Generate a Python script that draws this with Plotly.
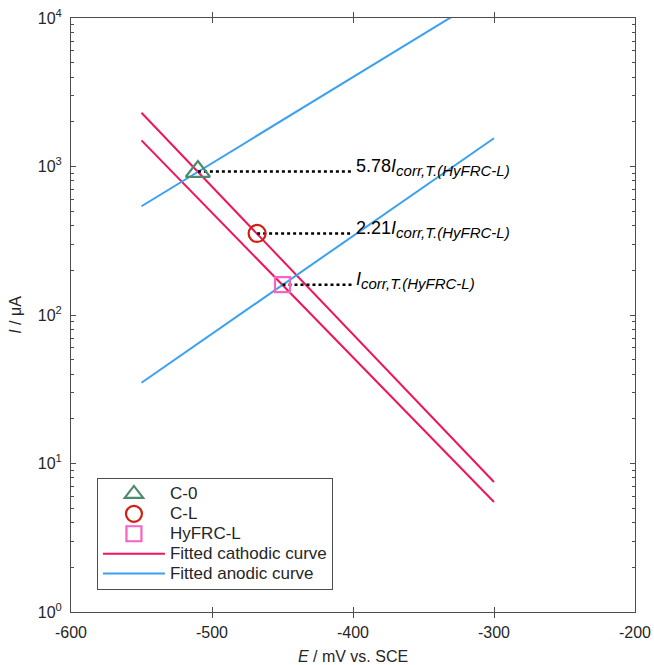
import math
import plotly.graph_objects as go

# Data
E_range = [-550, -300]
cathodic_upper = [2300, 7.5]
cathodic_lower = [1500, 5.5]
anodic_upper = [540, 15200]
anodic_lower = [35, 1550]

names = ["C-0", "C-L", "HyFRC-L"]
line_names = ["Fitted cathodic curve", "Fitted anodic curve"]
marker_E = [-510, -468, -450]
marker_I = [925, 354, 160]
ratio_labels = ["5.78", "2.21", ""]
dotted_end_E = -400
label_E = -399

y_major = [1, 10, 100, 1000, 10000]
y_major_text = ["10<sup>0</sup>", "10<sup>1</sup>", "10<sup>2</sup>", "10<sup>3</sup>", "10<sup>4</sup>"]
y_minor = [m * d for d in [1, 10, 100, 1000] for m in range(2, 10)]
x_tickvals = [-600, -500, -400, -300, -200]
x_ticktext = ["-600", "-500", "-400", "-300", "-200"]

# all y ticks (major labelled, minor blank)
y_all = sorted(y_major + y_minor)
y_all_text = [y_major_text[y_major.index(v)] if v in y_major else "" for v in y_all]

CATH = "#F0145A"
ANOD = "#3AA0F0"
sym = ["triangle-up-open", "circle-open", "square-open"]
cols = ["#4E8A6E", "#D02010", "#F564C0"]
sizes = [21, 17, 15]
FONT = "Liberation Sans, Arial"
TXT = "#262626"
AX = "#4d4d4d"


def lg(s):
    return f"<span style='font-size:17px'>{s}</span>"


fig = go.Figure()

# Fitted lines
fig.add_trace(go.Scatter(x=E_range, y=cathodic_upper, mode="lines", line=dict(color=CATH, width=2),
                         name=lg(line_names[0]), legendrank=4))
fig.add_trace(go.Scatter(x=E_range, y=cathodic_lower, mode="lines", line=dict(color=CATH, width=2),
                         showlegend=False))
fig.add_trace(go.Scatter(x=E_range, y=anodic_upper, mode="lines", line=dict(color=ANOD, width=2),
                         name=lg(line_names[1]), legendrank=5))
fig.add_trace(go.Scatter(x=E_range, y=anodic_lower, mode="lines", line=dict(color=ANOD, width=2),
                         showlegend=False))

# Dotted guides
for e, i in zip(marker_E, marker_I):
    fig.add_trace(go.Scatter(x=[e, dotted_end_E], y=[i, i], mode="lines",
                             line=dict(color="black", width=2.5, dash="dot"), showlegend=False))

# Markers
for k in range(3):
    fig.add_trace(go.Scatter(x=[marker_E[k]], y=[marker_I[k]], mode="markers", name=lg(names[k]),
                             marker=dict(symbol=sym[k], color=cols[k], size=sizes[k],
                                         line=dict(color=cols[k], width=2.2)),
                             legendrank=k + 1))

# invisible trace to carry the major-tick overlay axis
fig.add_trace(go.Scatter(x=[-600], y=[1], yaxis="y2", mode="markers", marker=dict(opacity=0),
                         showlegend=False, hoverinfo="skip"))

# Labels (annotation y on log axis is given in log10 units)
for k in range(3):
    fig.add_annotation(x=label_E, y=math.log10(marker_I[k]), yref="y", xref="x",
                       text=(f"{ratio_labels[k]}<i>I</i><sub><i><span style='font-size:15px'>"
                             f"corr,T.(HyFRC-L)</span></i></sub>"),
                       showarrow=False, xanchor="left", yanchor="middle", yshift=4,
                       font=dict(size=18, color="black", family=FONT))

axis_common = dict(showline=True, linecolor=AX, linewidth=1, mirror="allticks",
                   ticks="inside", tickcolor=AX, showgrid=False, zeroline=False, automargin=False,
                   tickfont=dict(size=16, color=TXT, family=FONT))

fig.update_xaxes(range=[-600, -200], tickmode="array", tickvals=x_tickvals, ticktext=x_ticktext,
                 ticklabelstandoff=6, ticklen=5,
                 title=dict(text="<i>E</i> / mV vs. SCE", font=dict(size=16, color=TXT, family=FONT), standoff=12),
                 **axis_common)
fig.update_yaxes(type="log", range=[0, 4], tickmode="array", tickvals=y_all, ticktext=y_all_text,
                 ticklabelstandoff=5, ticklen=3,
                 title=dict(text="<i>I</i> / μA", font=dict(size=16, color=TXT, family=FONT), standoff=12),
                 **axis_common)

fig.update_layout(
    width=654, height=665,
    margin=dict(l=71, r=19, t=18, b=53),
    plot_bgcolor="white", paper_bgcolor="white",
    font=dict(family=FONT, size=16, color=TXT),
    yaxis2=dict(type="log", range=[0, 4], overlaying="y", anchor="x", side="left",
                tickmode="array", tickvals=y_major, ticks="inside", ticklen=5, tickcolor=AX,
                showticklabels=False, showgrid=False, zeroline=False, showline=False,
                mirror="allticks", automargin=False),
    legend=dict(x=0.046, y=0.2256, xanchor="left", yanchor="top",
                bordercolor=AX, borderwidth=1, bgcolor="white",
                font=dict(size=13, color=TXT, family=FONT), tracegroupgap=0, itemwidth=62),
)

fig.write_html("out.html")
